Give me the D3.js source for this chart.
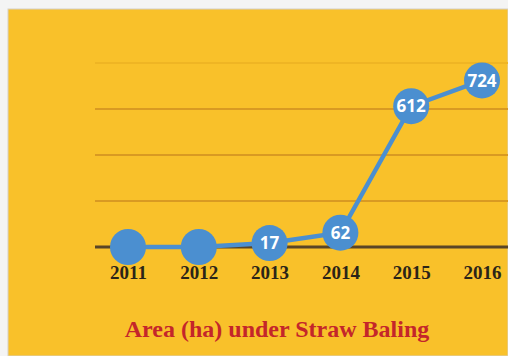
<!DOCTYPE html>
<html>
<head>
<meta charset="utf-8">
<script src="https://cdn.jsdelivr.net/npm/d3@7/dist/d3.min.js"></script>
<style>
  html, body { margin: 0; padding: 0; background: #ffffff; }
  svg { display: block; }
</style>
</head>
<body>
<script>
// Area under straw baling, by year
const years = ["2011", "2012", "2013", "2014", "2015", "2016"];
const areaHa = [0, 0, 17, 62, 612, 724];
const gridValues = [0, 200, 400, 600, 800];
const pointLabels = ["", "", "17", "62", "612", "724"];
const chartTitle = "Area (ha) under Straw Baling";

const W = 508, H = 356;
const svg = d3.select("body").append("svg").attr("width", W).attr("height", H);

// page frame and yellow panel
svg.append("rect").attr("x", 0).attr("y", 0).attr("width", W).attr("height", H).attr("fill", "#f4f4f4");
svg.append("rect").attr("x", 8).attr("y", 9).attr("width", W - 8).attr("height", H - 9)
  .attr("fill", "#f9c12a").attr("stroke", "#d6d0c4").attr("stroke-width", 1);

const x = d3.scalePoint().domain(years).range([128, 482]);
const y = d3.scaleLinear().domain([0, 800]).range([247, 63]);

// horizontal gridlines
svg.append("g").selectAll("line").data(gridValues.filter(v => v > 0)).join("line")
  .attr("x1", 95).attr("x2", W)
  .attr("y1", d => y(d)).attr("y2", d => y(d))
  .attr("stroke", d => d === 800 ? "#efb524" : "#d99a22")
  .attr("stroke-width", 2);

// baseline
svg.append("line").attr("x1", 95).attr("x2", W)
  .attr("y1", y(0)).attr("y2", y(0))
  .attr("stroke", "#5a4526").attr("stroke-width", 3);

// year labels
const xAxis = d3.axisBottom(x).tickSize(0).tickPadding(0);
const gx = svg.append("g").attr("transform", `translate(0,${y(0) + 32})`).call(xAxis);
gx.select(".domain").remove();
gx.selectAll("text")
  .attr("dy", 0)
  .attr("font-family", "'Liberation Serif', 'DejaVu Serif', serif")
  .attr("font-weight", "bold")
  .attr("font-size", 19)
  .attr("fill", "#2b2418");

const pts = years.map((yr, i) => ({ yr, v: areaHa[i], label: pointLabels[i] }));

// series line
svg.append("path").datum(pts)
  .attr("fill", "none")
  .attr("stroke", "#4b8fd0")
  .attr("stroke-width", 4.5)
  .attr("d", d3.line().x(d => x(d.yr)).y(d => y(d.v)));

// markers
svg.append("g").selectAll("circle").data(pts).join("circle")
  .attr("cx", d => x(d.yr)).attr("cy", d => y(d.v)).attr("r", 18)
  .attr("fill", "#4b8fd0");

// value labels
svg.append("g").selectAll("text").data(pts).join("text")
  .attr("x", d => x(d.yr)).attr("y", d => y(d.v))
  .attr("dy", "0.36em")
  .attr("text-anchor", "middle")
  .attr("font-family", "'Open Sans', 'Noto Sans', sans-serif")
  .attr("font-weight", "bold")
  .attr("font-size", 17)
  .attr("fill", "#ffffff")
  .text(d => d.label);

// chart title
svg.append("text")
  .attr("x", 277).attr("y", 337)
  .attr("text-anchor", "middle")
  .attr("font-family", "'Liberation Serif', 'DejaVu Serif', serif")
  .attr("font-weight", "bold")
  .attr("font-size", 24)
  .attr("fill", "#c4262a")
  .text(chartTitle);
</script>
</body>
</html>
